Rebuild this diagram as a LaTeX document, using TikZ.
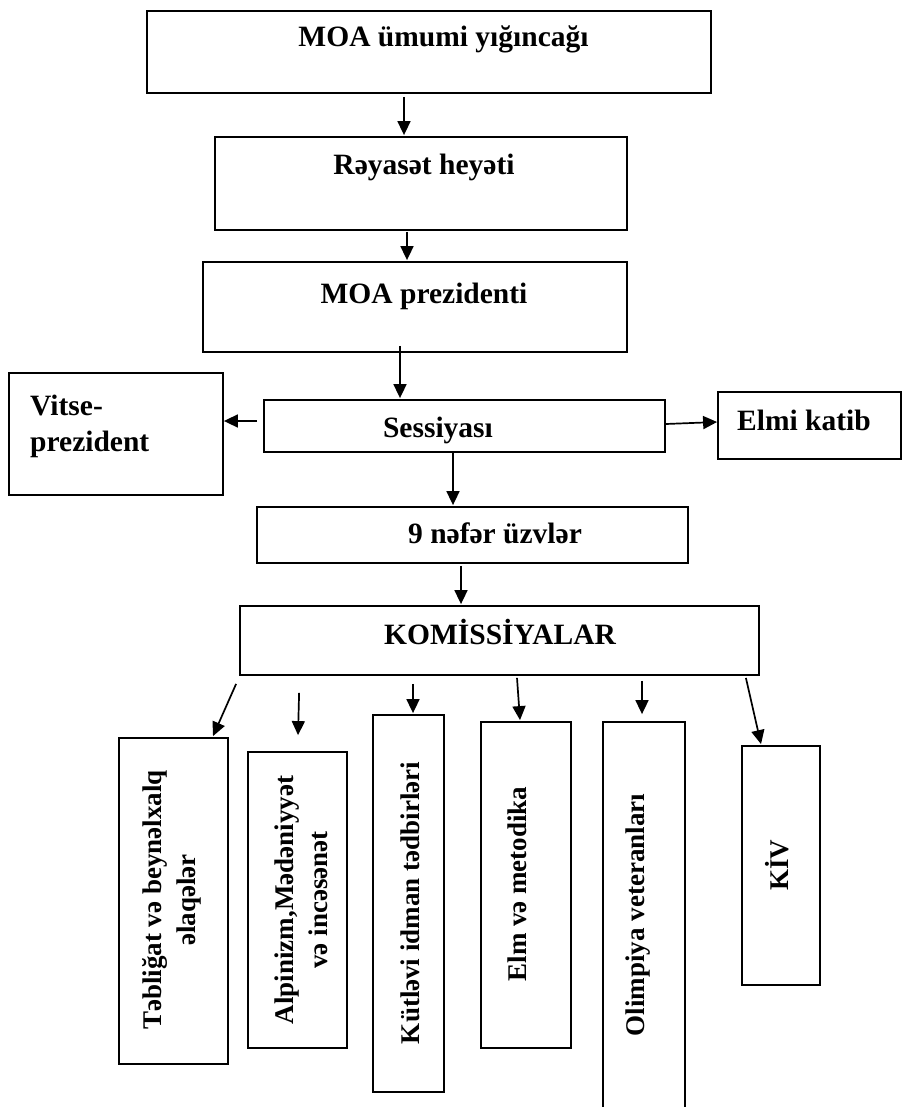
\documentclass[tikz,border=0pt]{standalone}
\usepackage{fontspec}
\setmainfont{Liberation Serif}
\usetikzlibrary{arrows.meta,calc}
\tikzset{
  box/.style={draw, line width=1.8pt, inner sep=0pt, rectangle},
  txt/.style={font=\bfseries\fontsize{29.5}{34}\selectfont, inner sep=0pt, anchor=base},
  vtxt/.style={font=\bfseries\fontsize{27}{34}\selectfont, inner sep=0pt, rotate=90, align=center},
  arr/.style={line width=1.7pt, -{Triangle[length=14pt,width=13pt]}}
}
\begin{document}
\begin{tikzpicture}[x=1pt,y=-1pt]
\useasboundingbox (0,0) rectangle (906,1107);
% boxes
\node[box, minimum width=564pt, minimum height=82pt] (b1) at (429,52) {};
\node[box, minimum width=412pt, minimum height=93pt] (b2) at (421,183.5) {};
\node[box, minimum width=424pt, minimum height=90pt] (b3) at (415,307) {};
\node[box, minimum width=401pt, minimum height=52pt] (ses) at (464.5,426) {};
\node[box, minimum width=214pt, minimum height=122pt] (vit) at (116,434) {};
\node[box, minimum width=183pt, minimum height=67pt] (elm) at (809.5,425.5) {};
\node[box, minimum width=431pt, minimum height=56pt] (nef) at (472.5,535) {};
\node[box, minimum width=519pt, minimum height=69pt] (kom) at (499.5,640.5) {};
\node[box, minimum width=109pt, minimum height=326pt] (t1) at (173.5,901) {};
\node[box, minimum width=99pt, minimum height=296pt] (t2) at (297.5,900) {};
\node[box, minimum width=71pt, minimum height=377pt] (t3) at (408.5,903.5) {};
\node[box, minimum width=90pt, minimum height=326pt] (t4) at (526,885) {};
\node[box, minimum width=82pt, minimum height=403pt] (t5) at (644,923.5) {};
\node[box, minimum width=78pt, minimum height=239pt] (t6) at (781,865.5) {};
% texts
\node[txt] (l1) at (443.5,47) {MOA ümumi yığıncağı};
\node[txt] (l2) at (424,175) {Rəyasət heyəti};
\node[txt] (l3) at (424,303) {MOA prezidenti};
\node[txt] (l4) at (438,437) {Sessiyası};
\node[txt, anchor=base west] (l5a) at (30,415) {Vitse-};
\node[txt, anchor=base west] (l5b) at (30,451) {prezident};
\node[txt] (l6) at (804,430) {Elmi katib};
\node[txt] (l7) at (495,543) {9 nəfər üzvlər};
\node[txt] (l8) at (500,644) {KOMİSSİYALAR};
\node[vtxt] (v1) at (172,900) {Təbliğat və beynəlxalq\\əlaqələr};
\node[vtxt] (v2) at (301,900) {Alpinizm,Mədəniyyət\\və incəsənət};
\node[vtxt] (v3) at (410,903) {Kütləvi idman tədbirləri};
\node[vtxt] (v4) at (517,884) {Elm və metodika};
\node[vtxt] (v5) at (638,915) {Olimpiya veteranları};
\node[vtxt] (v6) at (777,865) {KİV};
% connectors
\draw[arr] ($(b1.south)+(-25,3)$) -- ($(b2.north)+(-17,-1)$);
\draw[arr] ($(b2.south)+(-14,1)$) -- ($(b3.north)+(-8,-1)$);
\draw[arr] ($(b3.south)+(-15,-7)$) -- ($(ses.north)+(-64.5,-1)$);
\draw[arr] ($(ses.west)+(-6,-5)$) -- ($(vit.east)+(0,-13)$);
\draw[arr] ($(ses.east)+(0,-2)$) -- ($(elm.west)+(0,-3.5)$);
\draw[arr] ($(ses.south)+(-11.5,0)$) -- ($(nef.north)+(-19.5,-1)$);
\draw[arr] ($(nef.south)+(-11.5,2)$) -- ($(kom.north)+(-38.5,-1)$);
\draw[arr] ($(kom.south west)+(-3,8)$) -- ($(t1.north)+(39.5,-1)$);
\draw[arr] ($(kom.south west)+(60,17)$) -- ($(t2.north)+(0.5,-16)$);
\draw[arr] ($(kom.south)+(-86.5,8)$) -- ($(t3.north)+(4.5,-1)$);
\draw[arr] ($(kom.south)+(17.5,2)$) -- ($(t4.north)+(-6,-1)$);
\draw[arr] ($(kom.south)+(142.5,5)$) -- ($(t5.north)+(-2,-7)$);
\draw[arr] ($(kom.south east)+(-14,2)$) -- ($(t6.north)+(-20,-1)$);
\end{tikzpicture}
\end{document}
